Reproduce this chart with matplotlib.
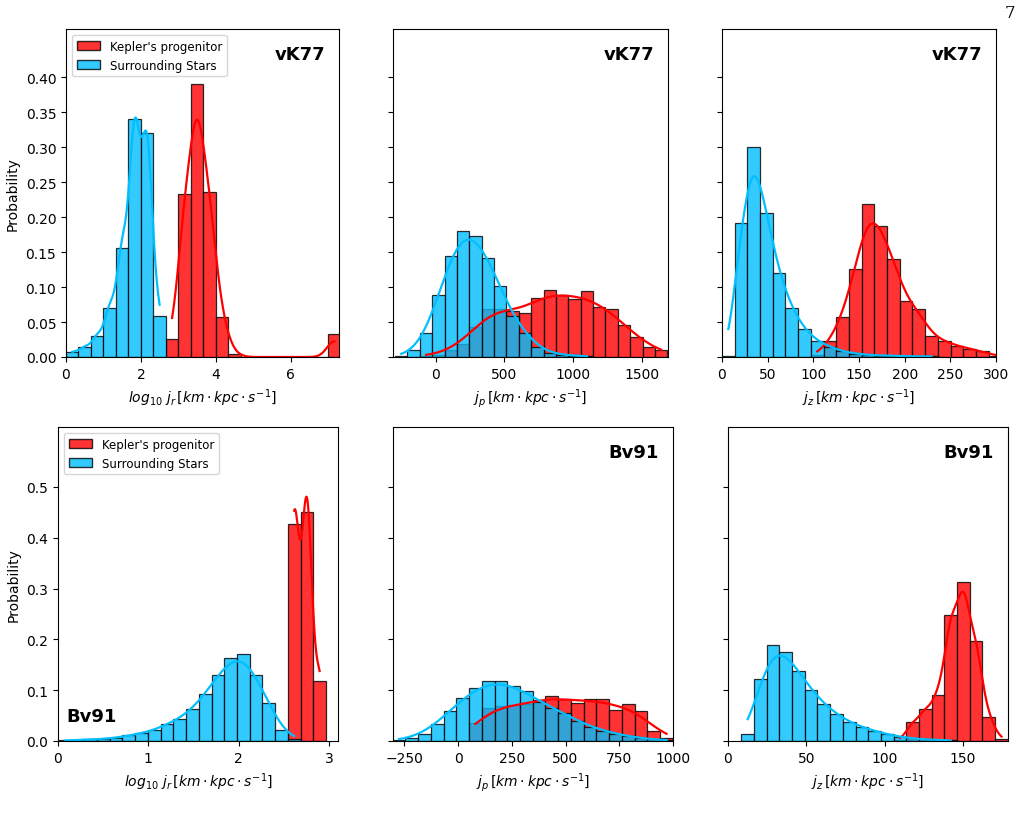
import numpy as np
import matplotlib
matplotlib.use("Agg")
import matplotlib.pyplot as plt
from matplotlib.patches import Patch

# ---------------- data (bin start, bin width, heights per bin) ----------------
# Panel 1: vK77 log10 jr
p1_start, p1_width = 0.0, 1/3
p1_blue = [0.007, 0.014, 0.030, 0.070, 0.156, 0.340, 0.321, 0.058]
p1_red = [0, 0, 0, 0, 0, 0, 0, 0, 0.026, 0.233, 0.390, 0.236, 0.057, 0.005,
          0, 0, 0, 0, 0, 0, 0, 0.033]
# Panel 2: vK77 jp
p2_start, p2_width = -295.0, 90.0
p2_blue = [0.002, 0.0095, 0.034, 0.088, 0.144, 0.180, 0.173, 0.142, 0.101, 0.058,
           0.035, 0.015, 0.006, 0.003, 0.002, 0.001]
p2_red = [0, 0, 0.002, 0.003, 0.010, 0.018, 0.043, 0.069, 0.069, 0.066, 0.063,
          0.085, 0.096, 0.089, 0.083, 0.094, 0.071, 0.069, 0.046, 0.028, 0.014, 0.010]
# Panel 3: vK77 jz
p3_start, p3_width = 0.0, 13.9
p3_blue = [0.002, 0.192, 0.300, 0.206, 0.120, 0.070, 0.040, 0.023, 0.015, 0.008,
           0.005, 0.003, 0.002, 0.002, 0.001, 0.001, 0.001]
p3_red = [0, 0, 0, 0, 0, 0, 0, 0.003, 0.023, 0.057, 0.126, 0.219, 0.188, 0.140,
          0.080, 0.068, 0.030, 0.023, 0.016, 0.012, 0.008, 0.002]
# Panel 4: Bv91 log10 jr
p4_start, p4_width = 0.01, 0.1408
p4_blue = [0.001, 0.002, 0.003, 0.004, 0.006, 0.011, 0.015, 0.021, 0.033, 0.044,
           0.062, 0.092, 0.130, 0.163, 0.171, 0.130, 0.074, 0.021, 0.003]
p4_red = [0]*18 + [0.428, 0.450, 0.118]
# Panel 5: Bv91 jp
p5_start, p5_width = -305.0, 59.3
p5_blue = [0.001, 0.005, 0.014, 0.033, 0.060, 0.085, 0.104, 0.118, 0.119, 0.108,
           0.098, 0.077, 0.065, 0.055, 0.039, 0.027, 0.020, 0.014, 0.009, 0.005,
           0.003, 0.001]
p5_red = [0, 0, 0, 0, 0, 0, 0.035, 0.065, 0.068, 0.070, 0.072, 0.080, 0.089, 0.083,
          0.074, 0.083, 0.083, 0.061, 0.073, 0.060, 0.019, 0.006]
# Panel 6: Bv91 jz
p6_start, p6_width = 8.5, 8.1
p6_blue = [0.014, 0.122, 0.189, 0.175, 0.138, 0.101, 0.072, 0.053, 0.037, 0.027,
           0.020, 0.013, 0.008, 0.005, 0.003, 0.002, 0.001]
p6_red = [0]*12 + [0.002, 0.037, 0.062, 0.091, 0.248, 0.312, 0.196, 0.047, 0.004]

labels_series = ["Kepler's progenitor", "Surrounding Stars"]
xlabel_jr = r'$log_{10}\ j_r\,[km \cdot kpc \cdot s^{-1}]$'
xlabel_jp = r'$j_p\,[km \cdot kpc \cdot s^{-1}]$'
xlabel_jz = r'$j_z\,[km \cdot kpc \cdot s^{-1}]$'

panels = [
    dict(start=p1_start, w=p1_width, blue=p1_blue, red=p1_red, xlim=(0, 7.29),
         xticks=[0, 2, 4, 6], xlabel=xlabel_jr, tag="vK77", bw=(0.45, 0.35)),
    dict(start=p2_start, w=p2_width, blue=p2_blue, red=p2_red, xlim=(-310, 1690),
         xticks=[0, 500, 1000, 1500], xlabel=xlabel_jp, tag="vK77", bw=(0.6, 0.6)),
    dict(start=p3_start, w=p3_width, blue=p3_blue, red=p3_red, xlim=(0, 300),
         xticks=[0, 50, 100, 150, 200, 250, 300], xlabel=xlabel_jz, tag="vK77", bw=(0.45, 0.5)),
    dict(start=p4_start, w=p4_width, blue=p4_blue, red=p4_red, xlim=(0, 3.1),
         xticks=[0, 1, 2, 3], xlabel=xlabel_jr, tag="Bv91", bw=(0.5, 0.7)),
    dict(start=p5_start, w=p5_width, blue=p5_blue, red=p5_red, xlim=(-303, 1000),
         xticks=[-250, 0, 250, 500, 750, 1000], xlabel=xlabel_jp, tag="Bv91", bw=(0.6, 0.6)),
    dict(start=p6_start, w=p6_width, blue=p6_blue, red=p6_red, xlim=(0, 178.7),
         xticks=[0, 50, 100, 150], xlabel=xlabel_jz, tag="Bv91", bw=(0.5, 0.5)),
]

RED = "red"
BLUE = "deepskyblue"

fig = plt.figure(figsize=(10.25, 8.2), dpi=100)
W, H = 1025, 820
boxes = [(66, 339, 30, 358), (393, 668, 30, 358), (722, 996, 30, 358),
         (58, 338, 428, 742), (393, 673, 428, 742), (728, 1008, 428, 742)]


def draw(ax, start, w, heights, color, bw_adjust):
    heights = np.asarray(heights, float)
    n = len(heights)
    edges = start + w * np.arange(n + 1)
    centers = (edges[:-1] + edges[1:]) / 2
    ax.hist(centers, bins=edges, weights=heights, color=color, alpha=0.8,
            edgecolor="black", linewidth=0.9)
    m = heights > 0
    c, h = centers[m], heights[m]
    wts = h / h.sum()
    mean = np.sum(wts * c)
    std = np.sqrt(np.sum(wts * (c - mean) ** 2))
    neff = 1.0 / np.sum(wts ** 2)
    bw = std * neff ** (-0.2) * bw_adjust
    xs = np.linspace(c.min(), c.max(), 300)
    dens = (wts[None, :] * np.exp(-0.5 * ((xs[:, None] - c[None, :]) / bw) ** 2)).sum(1)
    dens /= bw * np.sqrt(2 * np.pi)
    ax.plot(xs, dens * h.sum() * w, color=color, linewidth=1.6)


for i, (p, b) in enumerate(zip(panels, boxes)):
    l, r, t, bt = b
    ax = fig.add_axes([l / W, 1 - bt / H, (r - l) / W, (bt - t) / H])
    draw(ax, p["start"], p["w"], p["red"], RED, p["bw"][1])
    draw(ax, p["start"], p["w"], p["blue"], BLUE, p["bw"][0])
    ax.set_xlim(*p["xlim"])
    ax.set_xticks(p["xticks"])
    ax.set_xlabel(p["xlabel"], fontsize=10)
    if i < 3:
        ax.set_ylim(0, 0.469)
        ax.set_yticks(np.arange(0, 0.41, 0.05))
        ax.yaxis.set_major_formatter(matplotlib.ticker.FormatStrFormatter('%.2f'))
    else:
        ax.set_ylim(0, 0.618)
        ax.set_yticks(np.arange(0, 0.51, 0.1))
        ax.yaxis.set_major_formatter(matplotlib.ticker.FormatStrFormatter('%.1f'))
    if i in (0, 3):
        ax.set_ylabel("Probability", fontsize=10)
        handles = [Patch(facecolor=RED, alpha=0.8, edgecolor="black"),
                   Patch(facecolor=BLUE, alpha=0.8, edgecolor="black")]
        ax.legend(handles, labels_series, loc="upper left", fontsize=8.5,
                  handlelength=2.0)
    else:
        ax.tick_params(axis="y", labelleft=False)
    if i == 3:
        ax.text(0.03, 0.05, p["tag"], transform=ax.transAxes, fontsize=13,
                fontweight="bold", ha="left", va="bottom")
    else:
        ax.text(0.95, 0.95, p["tag"], transform=ax.transAxes, fontsize=13,
                fontweight="bold", ha="right", va="top")
    ax.tick_params(labelsize=10)

fig.text(1010 / W, 1 - 14 / H, "7", fontsize=12, family="DejaVu Serif",
         ha="center", va="center")

fig.savefig("out.png", dpi=100)
